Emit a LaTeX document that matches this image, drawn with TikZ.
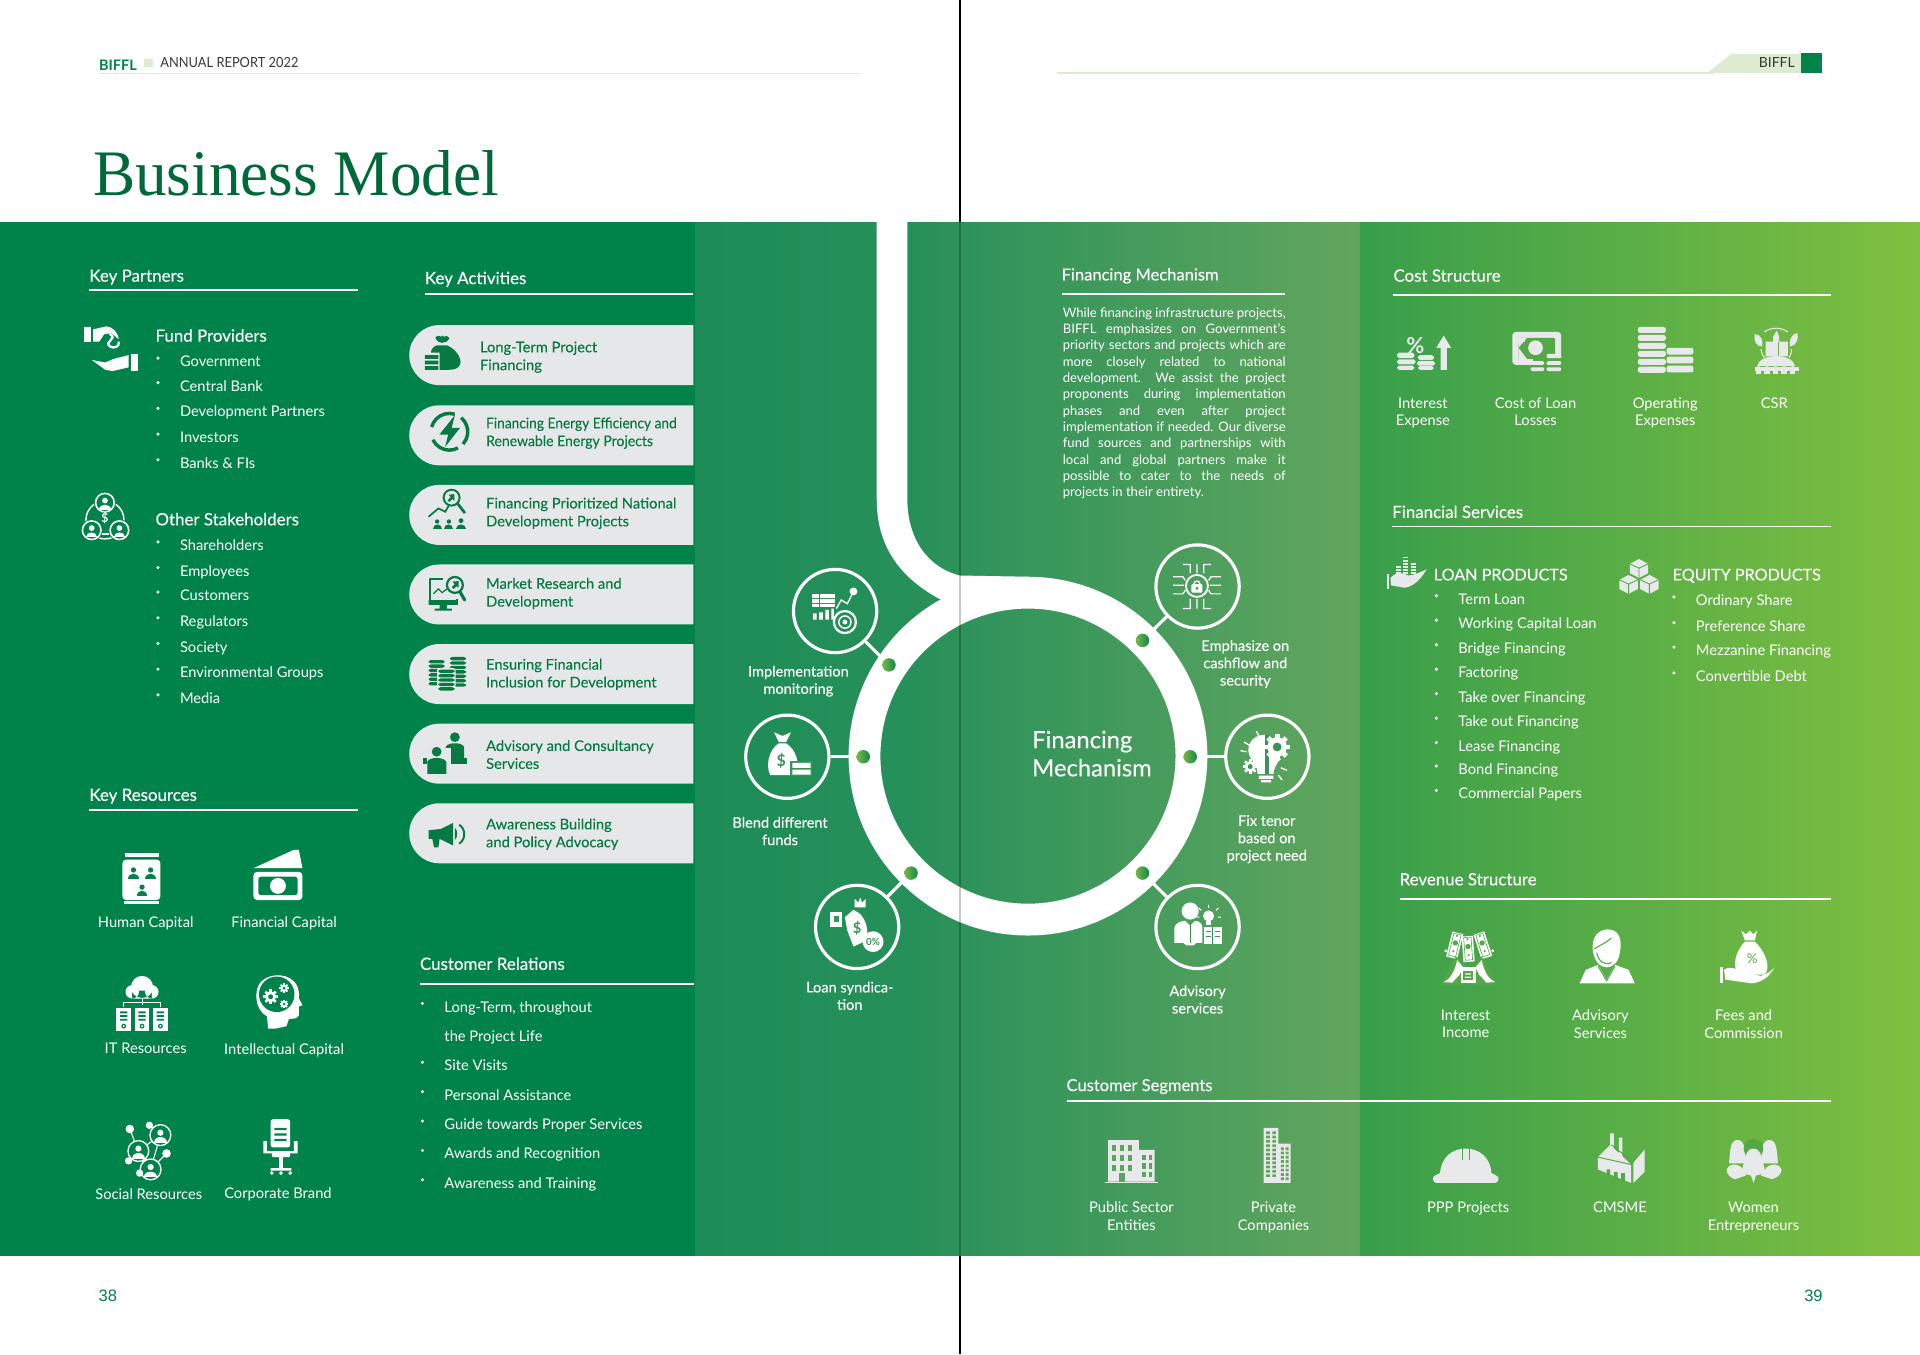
\documentclass[tikz,border=0pt]{standalone}
\usepackage{fontspec}
\usepackage{graphicx}
\setmainfont{Lato}
\newfontfamily\titlefont{Liberation Serif}
\newfontfamily\numfont{Liberation Sans}
\usetikzlibrary{shapes.misc}
\definecolor{gA}{HTML}{00834A}
\definecolor{gT}{HTML}{067A42}
\definecolor{gTitle}{HTML}{00693A}
\definecolor{pill}{HTML}{E6E7E8}
\definecolor{lg}{HTML}{E8E9EA}
\definecolor{midA}{HTML}{1D8C57}
\definecolor{midC}{HTML}{26905A}
\definecolor{midB}{HTML}{62A65E}
\definecolor{rgtA}{HTML}{389E4B}
\definecolor{rgtB}{HTML}{80C040}
\definecolor{pale}{HTML}{DDEBD0}
\definecolor{bgM}{HTML}{3A9459}
\definecolor{bgR}{HTML}{55A848}
\definecolor{bgS}{HTML}{5BA55C}
\definecolor{dotL}{HTML}{7AB648}
\definecolor{dotR}{HTML}{0E8A4A}
\newcommand\fb{\addfontfeatures{FakeBold=0.18}}
\tikzset{
 base/.style={inner sep=0pt,outer sep=0pt,text=white},
 head/.style={base,anchor=base west,yshift=-5pt,font=\fontsize{13.8}{17}\selectfont\fb},
 item/.style={base,anchor=base west,yshift=-4.5pt,font=\fontsize{12}{15}\selectfont,color=white},
 blt/.style={circle,fill=white,inner sep=0pt,minimum size=2.8pt},
 lab/.style={base,anchor=north,align=center,yshift=4.3pt,font=\fontsize{12}{14.2}\selectfont},
 clab/.style={lab,font=\fontsize{11.9}{14.2}\selectfont\fb},
 rule/.style={white,line width=1.3pt},
 ccl/.style={circle,draw=white,line width=2.6pt,minimum size=68pt,inner sep=0pt},
 dot/.style={circle,inner sep=0pt,minimum size=11pt,left color=dotL,right color=dotR,draw=none},
 cnn/.style={white,line width=2.5pt},
 pillbox/.style={rounded rectangle,rounded rectangle right arc=none,fill=pill,minimum width=232pt,minimum height=49pt,inner sep=0pt,anchor=west},
 ptxt/.style={base,anchor=west,align=left,yshift=-.7pt,text=gT,font=\fontsize{12}{14.6}\selectfont\fb},
}
\newcommand\icBust[4][white]{%
 \fill[#1] (#2,{#3-#4*.42}) circle ({#4*.36});
 \fill[#1] ({#2-#4*.72},{#3+#4*.75}) .. controls ({#2-#4*.72},{#3-#4*.1}) and ({#2+#4*.72},{#3-#4*.1}) .. ({#2+#4*.72},{#3+#4*.75}) -- cycle;}
\newcommand\icGear[5][white]{%
 \fill[#1] (#2,#3) circle (#4);
 \foreach \a in {0,45,...,315}{\fill[#1,shift={(#2,#3)},rotate=\a] ({-.24*#4},{-1.32*#4}) rectangle ({.24*#4},0);}
 \fill[#5] (#2,#3) circle ({#4*.45});}
\newcommand\icStack[6][white]{% x ytop n halfw h
 \foreach \k in {1,...,#4}{\fill[#1,rounded corners=2pt] ({#2-#5},{#3+(\k-1)*#6}) rectangle ({#2+#5},{#3+(\k-1)*#6+#6*.76});}}
\begin{document}
\begin{tikzpicture}[x=1pt,y=-1pt]
\useasboundingbox (0,0) rectangle (1568,1105.8);
% background band
\fill[gA] (0,170) rectangle (568,1040);
\shade[left color=midA,right color=midC] (568,170) rectangle (741,1040);
\shade[left color=midC,right color=midB] (741,170) rectangle (1110.5,1040);
\shade[left color=rgtA,right color=rgtB] (1110.5,170) rectangle (1568,1040);
\fill[white] (0,0) rectangle (1568,181);
\fill[white] (0,1026) rectangle (1568,1105.8);
% header left
\node[base,anchor=base west,text=gA,font=\fontsize{11.8}{14}\selectfont\bfseries] (hbl) at (81,57.5) {BIFFL};
\fill[pale] (118,48) rectangle (125,55);
\node[base,anchor=base west,text=black!78,font=\fontsize{11.4}{14}\selectfont] (har) at (131,55.5) {\scalebox{.92}[1]{ANNUAL REPORT 2022}};
\draw[pale,line width=1.2pt] (81,60) -- (703,60);
% header right
\draw[pale,line width=1.2pt] (863,59.5) -- (1400,59.5);
\fill[pale] (1394,59.5) -- (1414,44) -- (1471,44) -- (1471,59.5) -- cycle;
\node[base,anchor=base,text=black!78,font=\fontsize{11.4}{14}\selectfont] (hbr) at (1451,55.5) {BIFFL};
\fill[gA] (1471,43) rectangle (1488,60);
% title
\node[base,anchor=base west,text=gTitle,font=\fontsize{53}{60}\selectfont\titlefont] (title) at (76,159.5) {\scalebox{.975}[1]{Business Model}};
% page numbers
\node[base,text=gA,font=\fontsize{13.5}{16}\selectfont\numfont] (p38) at (88,1058) {38};
\node[base,text=gA,font=\fontsize{13.5}{16}\selectfont\numfont] (p39) at (1481,1058) {39};
% section heads
\node[head] (hKP) at (73,225) {Key Partners};
\draw[rule] (73,237) -- (292,237);
\node[head] (hKR) at (73,649) {Key Resources};
\draw[rule] (73,661.5) -- (292,661.5);
\node[head] (hKA) at (347,227) {Key Activities};
\draw[rule] (347,240) -- (566,240);
\node[head] (hCR) at (343,787) {Customer Relations};
\draw[rule] (343,803.5) -- (567,803.5);
\node[head,font=\fontsize{13.5}{17}\selectfont\fb] (hFM) at (867,224) {Financing Mechanism};
\draw[rule] (867,240) -- (1049,240);
\node[head] (hCS) at (1138,225) {Cost Structure};
\draw[rule] (1138,241) -- (1495,241);
\node[head] (hFS) at (1137,418) {Financial Services};
\draw[rule] (1137,430) -- (1495,430);
\node[head] (hRS) at (1143,718) {Revenue Structure};
\draw[rule] (1143,734) -- (1495,734);
\node[head,font=\fontsize{13.5}{17}\selectfont\fb] (hCG) at (871,886) {Customer Segments};
\draw[rule] (871,899) -- (1495,899);
% lists
\node[head] (fp) at (127,274) {Fund Providers};
\foreach \y/\t [count=\i] in {295/Government,315/Central Bank,336/Development Partners,357/Investors,378/Banks \& FIs}{
 \node[blt] (fb\i) at (129,\y-2.5) {};
 \node[item] (fi\i) at (147,\y) {\t};}
\node[head] (os) at (127,424) {Other Stakeholders};
\foreach \y/\t [count=\i] in {445/Shareholders,466/Employees,486/Customers,507/Regulators,528/Society,549/Environmental Groups,570/Media}{
 \node[blt] (ob\i) at (129,\y-2.5) {};
 \node[item] (oi\i) at (147,\y) {\t};}
\foreach \y/\t [count=\i] in {822/{Long-Term, throughout},870/Site Visits,894/Personal Assistance,918/Guide towards Proper Services,942/Awards and Recognition,966/Awareness and Training}{
 \node[blt] (cb\i) at (345,\y-2.5) {};
 \node[item] (ci\i) at (363,\y) {\t};}
\node[item] (ci0) at (363,846) {the Project Life};
\node[head,font=\fontsize{13.2}{17}\selectfont\fb] (lp) at (1171,469) {LOAN PRODUCTS};
\node[head,font=\fontsize{13.2}{17}\selectfont\fb] (ep) at (1366,469) {EQUITY PRODUCTS};
\foreach \y/\t [count=\i] in {489/Term Loan,509/Working Capital Loan,529/Bridge Financing,549/Factoring,569/Take over Financing,589/Take out Financing,609/Lease Financing,628/Bond Financing,648/Commercial Papers}{
 \node[blt] (lb\i) at (1173,\y-2.5) {};
 \node[item] (li\i) at (1191,\y) {\t};}
\foreach \y/\t [count=\i] in {490/Ordinary Share,511/Preference Share,531/Mezzanine Financing,552/Convertible Debt}{
 \node[blt] (eb\i) at (1367,\y-2.5) {};
 \node[item] (ei\i) at (1385,\y) {\t};}
% paragraph
\node[base,anchor=north west,align=left,font=\fontsize{10.7}{13.36}\selectfont] (para) at (868,251) {%
\makebox[182pt][s]{While financing infrastructure projects,}\\
\makebox[182pt][s]{BIFFL emphasizes on Government's}\\
\makebox[182pt][s]{priority sectors and projects which are}\\
\makebox[182pt][s]{more closely related to national}\\
\makebox[182pt][s]{development. We assist the project}\\
\makebox[182pt][s]{proponents during implementation}\\
\makebox[182pt][s]{phases and even after project}\\
\makebox[182pt][s]{implementation if needed. Our diverse}\\
\makebox[182pt][s]{fund sources and partnerships with}\\
\makebox[182pt][s]{local and global partners make it}\\
\makebox[182pt][s]{possible to cater to the needs of}\\
projects in their entirety.};
% pills
\foreach \i/\yc/\tx/\ty/\t in {1/290/392/291/{Long-Term Project\\Financing},2/355.5/397/353/{\scalebox{.935}[1]{Financing Energy Efficiency and}\\\scalebox{.955}[1]{Renewable Energy Projects}},3/420.5/397/418.5/{Financing Prioritized National\\Development Projects},4/485.5/397/484/{Market Research and\\Development},5/550.5/397/550/{Ensuring Financial\\Inclusion for Development},6/615.5/397/615.5/{Advisory and Consultancy\\Services},7/680.5/397/680.5/{Awareness Building\\and Policy Advocacy}}{
 \node[pillbox] (pill\i) at (334,\yc) {};
 \node[ptxt] (ptx\i) at (\tx,\ty) {\t};}
% resource labels
\node[lab] (lHC) at (119,753) {Human Capital};
\node[lab] (lFC) at (232,753) {Financial Capital};
\node[lab] (lIT) at (119,856) {IT Resources};
\node[lab] (lIC) at (232,857) {Intellectual Capital};
\node[lab] (lSR) at (121.5,975) {Social Resources};
\node[lab] (lCB) at (227,974) {Corporate Brand};
% right labels
\node[lab] (l1) at (1162,329) {Interest\\Expense};
\node[lab] (l2) at (1254,329) {Cost of Loan\\Losses};
\node[lab] (l3) at (1360,329) {Operating\\Expenses};
\node[lab] (l4) at (1449,329) {CSR};
\node[lab] (l5) at (1197,829) {Interest\\Income};
\node[lab] (l6) at (1307,829) {Advisory\\Services};
\node[lab] (l7) at (1424,829) {Fees and\\Commission};
\node[lab] (l8) at (924,986) {Public Sector\\Entities};
\node[lab] (l9) at (1040,986) {Private\\Companies};
\node[lab] (l10) at (1199,986) {PPP Projects};
\node[lab] (l11) at (1323,986) {CMSME};
\node[lab] (l12) at (1432,986) {Women\\Entrepreneurs};
% hook and ring
\fill[white] (716,181) -- (741,181) -- (741,408) .. controls (741,440) and (758,464) .. (784,470) -- (840,471) -- (800,492) -- (768,489.5) .. controls (735,472) and (716,446) .. (716,408) -- cycle;
\node[circle,draw=white,line width=26pt,minimum size=267pt,inner sep=0pt] (ring) at (839.5,617.5) {};
\node[base,anchor=west,align=left,font=\fontsize{19.4}{23}\selectfont\fb] (cen) at (843,615.5) {Financing\\Mechanism};
% satellites
\node[ccl] (cI) at (682,499) {};
\node[ccl] (cB) at (643,618) {};
\node[ccl] (cL) at (700,757) {};
\node[ccl] (cE) at (978,479) {};
\node[ccl] (cF) at (1035,618) {};
\node[ccl] (cA) at (978,757) {};
\node[dot] (dI) at (726,543) {};
\node[dot] (dB) at (705,618) {};
\node[dot] (dL) at (744,713) {};
\node[dot] (dE) at (933,523) {};
\node[dot] (dF) at (972,618) {};
\node[dot] (dA) at (933,713) {};
\draw[cnn] (cI) -- (dI);
\draw[cnn] (cB) -- (dB);
\draw[cnn] (cL) -- (dL);
\draw[cnn] (cE) -- (dE);
\draw[cnn] (cF) -- (dF);
\draw[cnn] (cA) -- (dA);
\node[clab] (tI) at (652,548) {Implementation\\monitoring};
\node[clab] (tB) at (637,671.5) {Blend different\\funds};
\node[clab] (tL) at (694,806) {Loan syndica-\\tion};
\node[clab] (tE) at (1017,527) {Emphasize on\\cashflow and\\security};
\node[clab] (tF) at (1034.5,670) {Fix tenor\\based on\\project need};
\node[clab] (tA) at (978,809) {Advisory\\services};
% ICONS ---------------------------------------------------
% fund providers
\fill[white] (68.6,267) rectangle (74.4,279);
\fill[white] (76,269) -- (87,266.5) .. controls (92,267) and (96,271) .. (97,277) -- (91,272) -- (85,273) -- (81,279) -- (76,279) -- cycle;
\draw[white,line width=1.9pt] (89.5,272.5) .. controls (97,277) and (84,279) .. (90,283) .. controls (93,285) and (98,283) .. (97,279);
\fill[white] (107,289) rectangle (112.3,302.6);
\fill[white] (75,294) -- (86,296) -- (93,293) -- (105,290) -- (105,300) -- (92,303) -- (86,302) -- cycle;
% stakeholders
\draw[white,line width=1.2pt] (85.7,424.6) circle (15.5);
\draw[gA,line width=3pt] (80,437) -- (92,437);
\fill[white] (82,435.4) rectangle (89.5,436.6);
\fill[gA] (85.7,410.5) circle (9) (74.9,433) circle (9) (97.5,433) circle (9);
\draw[white,line width=1.3pt] (85.7,410.5) circle (7.6) (74.9,433) circle (7.6) (97.5,433) circle (7.6);
\icBust{85.7}{411.5}{6.5}\icBust{74.9}{434}{6.5}\icBust{97.5}{434}{6.5}
\node[base,text=white,font=\fontsize{10}{10}\selectfont\bfseries] (ic1) at (85.7,423.5) {\$};
% human capital
\fill[white] (102,697) rectangle (130,700);
\fill[white,rounded corners=3pt] (100,702) rectangle (131,735);
\fill[white] (101,736) rectangle (130,738);
\icBust[gA]{109}{713}{6}\icBust[gA]{123}{713}{6}\icBust[gA]{116}{727}{6}
% financial capital
\fill[white] (207,709) -- (240,694) -- (244,694) -- (247,709) -- cycle;
\fill[white,rounded corners=3pt] (207,712) rectangle (247,735);
\fill[gA,rounded corners=2pt] (211,716) rectangle (243,731);
\fill[white] (227,723.5) circle (6.5);
% IT
\fill[white] (108,810) circle (5.5) (124,810) circle (5.5) (116,806) circle (9) (108,809) rectangle (124,815.5);
\draw[white,line width=.8pt] (116,815) -- (116,821) (101,822) -- (101,819) -- (131,819) -- (131,822);
\foreach \xx in {95,110,125}{
 \fill[white] (\xx,823) rectangle (\xx+12,842);
 \fill[gA] (\xx+3,826) rectangle (\xx+9,827.5) (\xx+3,829) rectangle (\xx+9,830.5) (\xx+3,832) rectangle (\xx+9,833.5) (\xx+6,838) circle (2);
 \fill[white] (\xx+6,838) circle (.9);}
% head
\fill[white] (219,840) -- (218,830) .. controls (208,825) and (207,808) .. (213,802) .. controls (220,794) and (238,794) .. (243,806) .. controls (245,812) and (244,814) .. (244,815) -- (247,821) -- (244,822) -- (244,829) .. controls (243,832) and (240,832) .. (236,832) -- (234,838) -- (225,840) -- cycle;
\fill[gA] (226,812) circle (14.5);
\icGear{221}{814}{4.5}{gA}
\icGear{232}{807}{3}{gA}
\icGear{232}{820}{2.6}{gA}
% social
\draw[white,line width=.9pt] (106,922) -- (113,940) (122,919) -- (131,927) (113,940) -- (131,927) (131,927) -- (123,955) (113,940) -- (123,955) (136,942) -- (123,955) (105,948) -- (113,940) (114,958) -- (123,955);
\fill[gA] (113,940) circle (8.5) (131,927) circle (8.5) (123,955) circle (8.5);
\draw[white,line width=1.1pt] (113,940) circle (8.5) (131,927) circle (8.5) (123,955) circle (8.5);
\icBust{113}{941}{7}\icBust{131}{928}{7}\icBust{123}{956}{7}
\fill[white] (106,922) circle (3.5) (122,919) circle (3) (136,942) circle (3.5) (105,948) circle (3) (114,958) circle (3);
% chair
\fill[white,rounded corners=2pt] (221,914) rectangle (237,937);
\fill[gA] (224,921) rectangle (234,923) (224,925.5) rectangle (234,927.5) (224,930) rectangle (234,932);
\fill[white,rounded corners=1pt] (222,940) rectangle (237,945);
\fill[white] (215,932) rectangle (218,941) (240,932) rectangle (243,941) (215,940) rectangle (243,942) (228,945) rectangle (231,954) (221,954) rectangle (238,956);
\fill[white] (222,958) circle (1.6) (229.5,958) circle (1.6) (237,958) circle (1.6);
% pill 1 bag
\fill[gT] (355.5,276) .. controls (357,273.5) and (359,274) .. (360.5,275) .. controls (361,273.5) and (362,273.5) .. (362.5,275) .. controls (364,274) and (366,274) .. (367,276) .. controls (366,279) and (363,280) .. (361,280) .. controls (359,280) and (357,279) .. (355.5,276) -- cycle;
\fill[gT] (357,282) -- (365,282) .. controls (372,285) and (377,292) .. (376,297) .. controls (375,301) and (371,302) .. (366,302) -- (359,302) -- (359,288) -- (352,288) .. controls (352,285) and (354,283) .. (357,282) -- cycle;
\fill[gT] (347,290) rectangle (358,293) (347,294.5) rectangle (358,297.5) (347,299) rectangle (358,302);
% pill 2
\foreach \a in {-165,-50,62}{\draw[gT,line width=2.8pt] (367,352.6) ++(\a:15) arc[start angle=\a,end angle=\a+92,radius=15];}
\fill[gT] (371.5,339) -- (358.8,355) -- (366,355) -- (363.5,365) -- (375.7,349.4) -- (368.9,349.4) -- cycle;
% pill 3
\draw[gT,line width=1.6pt] (368.8,406.4) circle (6.5);
\draw[gT,line width=2.2pt] (373.5,411) -- (379.7,419);
\fill[gT] (371,403.5) -- (371,409) -- (369.5,407.5) -- (367,410) -- (365.5,408.5) -- (368,406) -- (366.5,404) -- cycle;
\draw[gT,line width=1.4pt] (350,422) -- (358,415.2) -- (363.6,417.9) -- (366.5,413);
\icBust[gT]{357}{428}{5}\icBust[gT]{366.6}{428}{5}\icBust[gT]{376.5}{427.5}{5.5}
% pill 4
\draw[gT,line width=2pt,line join=round] (362,473) -- (351,473) -- (351,493) -- (373,493) -- (373,489);
\fill[gT] (350,490) rectangle (374,494) (359,494) rectangle (365,497) (355,497) rectangle (369,498.7);
\draw[gT,line width=1.8pt] (371.5,477.7) circle (6.5);
\draw[gT,line width=2.6pt,line cap=round] (375.5,483) -- (379.5,490);
\draw[gT,line width=1pt] (354,485) -- (358,481) -- (361,484) -- (365,481);
\fill[gT] (374.5,474.5) -- (374.5,480) -- (373,478.6) -- (370.5,481) -- (369,479.5) -- (371.3,477) -- (369.5,475) -- cycle;
% pill 5
\icStack[gT]{356.6}{539}{6}{6.6}{3.6}
\icStack[gT]{374}{536.5}{7}{6.6}{3.6}
\fill[pill,rounded corners=2pt] (357,545.5) rectangle (372,564.5);
\icStack[gT]{364.6}{546.8}{5}{6.6}{3.6}
% pill 6
\fill[gT] (371.5,602) circle (4);
\fill[gT] (364,620) -- (364,610) .. controls (365,607.5) and (369,607) .. (371.5,607) .. controls (374,607) and (378,607.5) .. (379,610) -- (379,620) -- cycle;
\fill[gT] (362,619) rectangle (381,624);
\fill[pill] (344,611) rectangle (368,632);
\fill[gT] (356.6,613.9) circle (4);
\fill[gT] (349,632) -- (349,622) .. controls (350,619.5) and (354,619) .. (356.6,619) .. controls (359,619) and (363,619.5) .. (364.5,622) -- (364.5,632) -- cycle;
\fill[gT] (345.7,619) rectangle (348.5,624);
% pill 7
\fill[gT] (350,678) -- (360,677) -- (370,672) -- (370,690.5) -- (360,685.5) -- (350,685) -- cycle;
\fill[gT] (353,685) -- (359,685.5) -- (358,692) -- (354.5,692) -- cycle;
\fill[gT] (371.5,676) .. controls (374,678) and (374,684) .. (371.5,686) -- cycle;
\draw[gT,line width=1.6pt] (375,673.5) .. controls (380.5,677) and (380.5,685.5) .. (375,689);
% implementation
\fill[white] (663,485) rectangle (682,496);
\draw[bgM,line width=.8pt] (663,489) -- (682,489) (663,492.5) -- (682,492.5) (669,485) -- (669,496);
\draw[white,line width=1.1pt] (683,497) -- (687,490) -- (692,493) -- (697,483);
\fill[white] (697,483) circle (3.2);
\fill[white] (664,501) rectangle (667,506) (669,500) rectangle (672,506) (674,498) rectangle (677,506) (679,497) rectangle (681,506);
\draw[white,line width=1.8pt] (690,508) circle (9);
\draw[white,line width=1.2pt] (690,508) circle (5);
\fill[white] (690,508) circle (2);
% blend
\fill[white] (632,598) -- (639,601) -- (646,598) -- (642,606) -- (636,606) -- cycle;
\fill[white] (636,607) -- (642,607) .. controls (650,612) and (654,624) .. (650,633) -- (629,633) .. controls (625,625) and (628,612) .. (636,607) -- cycle;
\node[base,text=bgM,font=\fontsize{13}{13}\selectfont\bfseries] (ic2) at (638,621) {\$};
\fill[bgM] (645,621.5) rectangle (663,634);
\fill[white] (647,623) rectangle (662,627) (647,628.5) rectangle (662,632.5);
% loan
\fill[white] (678,745) rectangle (688,757);
\fill[bgM] (681,748) rectangle (685,753);
\fill[white] (690,749) -- (697,743) -- (702,746) .. controls (708,752) and (709,760) .. (708,768) -- (697,773) -- (692,760) -- cycle;
\node[base,text=bgM,font=\fontsize{12}{12}\selectfont\bfseries] (ic3) at (700,758) {\$};
\fill[white] (698,741) -- (698,734) -- (701,737) -- (702.5,733) -- (704,737) -- (707,734) -- (707,741) -- cycle;
\fill[white] (713,769) circle (8.5);
\node[base,text=bgM,font=\fontsize{8}{8}\selectfont\bfseries] (ic4) at (713,769) {0\%};
% emphasize
\draw[white,line width=1.5pt] (977.5,478.5) circle (9);
\fill[white,rounded corners=.8pt] (973,477) rectangle (982,484);
\draw[white,line width=1.1pt] (975,477) arc[start angle=180,end angle=360,radius=2.5];
\fill[bgM] (977.5,480.5) circle (1.2);
\draw[white,line width=1pt] (958,471) -- (966,471) -- (968,474) (958,478) -- (967,478) (958,485) -- (966,485) -- (968,482)
 (997,471) -- (989,471) -- (987,474) (997,478) -- (988,478) (997,485) -- (989,485) -- (987,482)
 (966,461) -- (972,461) -- (972,468) (989,461) -- (983,461) -- (983,468) (977.5,461) -- (977.5,468)
 (966,497) -- (972,497) -- (972,489) (989,497) -- (983,497) -- (983,489) (977.5,497) -- (977.5,489);
% fix tenor
\fill[white] (1033,600) .. controls (1021,600) and (1016,612) .. (1022,620) .. controls (1026,625) and (1027,628) .. (1027,632) -- (1040,632) .. controls (1040,628) and (1043,622) .. (1046,620) -- (1036,610) -- cycle;
\fill[white] (1028,633.5) rectangle (1040,636) (1030,637) rectangle (1038,639);
\fill[bgM] (1033,600) -- (1036,600) -- (1036,632) -- (1033,632) -- cycle;
\icGear{1043}{610}{8}{bgM}
\icGear{1021}{626}{4.5}{bgM}
\draw[white,line width=1.1pt] (1016,606) -- (1021,609) (1013,613) -- (1018,614) (1026,597) -- (1028,601) (1046,627) -- (1051,629) (1044,633) -- (1047,637);
% advisory
\fill[white] (972,744) circle (7);
\fill[white] (959,770) -- (959,758) .. controls (959,754) and (965,752) .. (968,752) -- (972,756) -- (976,752) .. controls (979,752) and (982,754) .. (982,758) -- (982,770) -- (977,770) -- (975,772) -- (969,772) -- (966,770) -- cycle;
\fill[white] (983,757) rectangle (998,771);
\draw[bgM,line width=.9pt] (990.5,757) -- (990.5,771) (985,761) -- (989,761) (985,765) -- (989,765) (992,761) -- (996,761) (992,765) -- (996,765) (972,755) -- (972,770);
\fill[white] (987,748) circle (4.5);
\fill[white] (985,752) rectangle (989,755);
\draw[white,line width=.8pt] (987,739) -- (987,741.5) (979,741.5) -- (981,743.5) (995,741.5) -- (993,743.5) (977,749) -- (979.5,749) (997,749) -- (994.5,749);
% interest expense
\node[base,text=lg,font=\fontsize{18}{18}\selectfont\bfseries] (ic5) at (1156,282) {\%};
\fill[lg,rounded corners=1.5pt] (1141,288) rectangle (1155,292.5) (1141,293.5) rectangle (1156,297.5) (1141,298.5) rectangle (1155,302);
\fill[lg,rounded corners=1.5pt] (1158,290) rectangle (1171,294) (1157,295) rectangle (1172,298.5) (1158,299) rectangle (1171,302);
\fill[lg] (1179,274) -- (1185,284) -- (1181.5,284) -- (1181.5,302) -- (1176.5,302) -- (1176.5,284) -- (1173,284) -- cycle;
% cost of loan
\fill[lg,rounded corners=3pt] (1235,271) rectangle (1275,298);
\fill[bgR,rounded corners=1pt] (1240,276) rectangle (1270,293);
\fill[lg] (1240,276) -- (1247,276) -- (1240,284) -- (1247,293) -- (1240,293) -- cycle;
\fill[lg] (1254,284) circle (6);
\fill[bgR] (1252,292) rectangle (1276,304);
\fill[lg,rounded corners=1pt] (1263,289) rectangle (1275,292.5) (1250,295) rectangle (1261,298) (1263,295) rectangle (1275,298) (1250,300) rectangle (1261,303) (1263,300) rectangle (1275,303);
\fill[lg] (1240,276) rectangle (1245,279);
% operating
\icStack[lg]{1349}{267}{6}{11.5}{6.5}
\icStack[lg]{1372}{284}{3}{11}{7.3}
% CSR
\fill[lg] (1435,299) .. controls (1437,288) and (1464,288) .. (1466,299) -- cycle;
\fill[lg] (1433,300) rectangle (1469,303);
\foreach \xx in {1436,1443,1450,1457,1464}{\fill[lg] (\xx,301) circle (2);\fill[lg] (\xx-2.3,303) rectangle (\xx+2.3,305.5);}
\fill[lg] (1442,279) rectangle (1448,291) (1452,279) rectangle (1460,291) (1448,275) -- (1451,270) -- (1453,275) -- (1453,291) -- (1448,291) -- cycle;
\fill[lg] (1433,273) .. controls (1439,273) and (1440,279) .. (1439,283) .. controls (1434,283) and (1432,278) .. (1433,273) -- cycle;
\fill[lg] (1468,272) .. controls (1462,273) and (1461,279) .. (1462,283) .. controls (1467,282) and (1469,277) .. (1468,272) -- cycle;
\draw[lg,line width=.9pt] (1441,271) .. controls (1447,267) and (1454,267) .. (1460,271) (1438,285) .. controls (1439,290) and (1440,291) .. (1441,292) (1463,285) .. controls (1463,289) and (1462,291) .. (1461,292);
% loan products
\fill[lg] (1133,469) rectangle (1134.5,481);
\fill[lg] (1135.5,472) .. controls (1141,466) and (1146,468) .. (1150,470) .. controls (1155,470) and (1160,467) .. (1165,465) .. controls (1161,472) and (1155,479) .. (1147,480) -- (1136,478) -- cycle;
\foreach \xx/\n in {1142/3,1148/6,1154/4}{\foreach \k in {1,...,\n}{\fill[lg] (\xx-2,{469-(\k-1)*2.6}) rectangle (\xx+2,{467.5-(\k-1)*2.6});}}
% equity
\foreach \cx/\cy in {1338.5/464,1330/477,1347/477}{
 \fill[lg] (\cx,\cy-7.5) -- (\cx+7.5,\cy-3.5) -- (\cx+7.5,\cy+4) -- (\cx,\cy+8) -- (\cx-7.5,\cy+4) -- (\cx-7.5,\cy-3.5) -- cycle;
 \draw[bgR,line width=.7pt] (\cx-7.5,\cy-3.5) -- (\cx,\cy) -- (\cx+7.5,\cy-3.5) (\cx,\cy) -- (\cx,\cy+8);}
% interest income
\foreach \cx/\cyy/\rt in {1188/772/-14,1199/775/4,1211/772/18}{
 \begin{scope}[shift={(\cx,\cyy)},rotate=\rt]
 \fill[white] (-4.6,-10.5) rectangle (4.6,10.5);
 \fill[bgR] (0,-2) circle (2.2) (0,-8) circle (1) (0,5) circle (1);
 \draw[bgR,line width=.5pt] (-3,-9.5) rectangle (3,9);
 \end{scope}}
\fill[white] (1180.7,776.5) circle (1.3) (1219,776.5) circle (1.3);
\fill[bgR] (1189,781) -- (1198,790) -- (1198,804) -- (1177,804) -- cycle;
\fill[bgR] (1210,781) -- (1202,790) -- (1202,804) -- (1223,804) -- cycle;
\fill[white] (1179,802) .. controls (1184,800) and (1188,794) .. (1190,784) -- (1195,790) -- (1192,796) -- (1186,802.5) -- cycle;
\fill[white] (1221,802) .. controls (1216,800) and (1212,794) .. (1210,784) -- (1205,790) -- (1208,796) -- (1214,802.5) -- cycle;
\fill[white] (1193,789.5) rectangle (1205,802.5);
\fill[bgR] (1195,793) rectangle (1203,800.5);
\fill[white] (1196.5,795) rectangle (1201.5,796) (1196.5,797.5) rectangle (1201.5,798.5);
% advisory person
\fill[white] (1301,777) .. controls (1299,765) and (1306,759) .. (1313,759) .. controls (1322,759) and (1325,767) .. (1323,777) .. controls (1322,786) and (1317,790) .. (1312,790) .. controls (1307,790) and (1302,785) .. (1301,777) -- cycle;
\fill[white] (1290,803) -- (1295,792) -- (1305,788) -- (1312,800) -- (1319,788) -- (1330,792) -- (1335,803) -- cycle;
\draw[bgR,line width=.9pt] (1302,775) .. controls (1306,772) and (1312,770) .. (1316,766);
\draw[bgR,line width=.9pt] (1304,778) .. controls (1305,785) and (1311,789) .. (1316,786);
\draw[bgR,line width=.8pt] (1305,789) -- (1312,801) -- (1319,789);
% fees
\fill[white] (1425,768) -- (1422,760) -- (1426,763) -- (1429,760) -- (1432,763) -- (1435,760) -- (1433,768) -- cycle;
\fill[white] (1425,769) -- (1433,769) .. controls (1441,776) and (1447,790) .. (1441,796) -- (1421,796) .. controls (1413,790) and (1418,776) .. (1425,769) -- cycle;
\node[base,text=bgR,font=\fontsize{11}{11}\selectfont] (ic6) at (1431,783) {\%};
\fill[white] (1405,790) rectangle (1407,803);
\fill[white] (1408,792) .. controls (1414,788) and (1418,792) .. (1425,794) -- (1438,797) .. controls (1442,796) and (1447,793) .. (1449,790) .. controls (1446,797) and (1438,803) .. (1430,803) -- (1409,800) -- cycle;
% public
\fill[lg] (905,931) rectangle (930,965) (930,939) rectangle (943,965);
\fill[lg] (902,965) rectangle (946,966.5);
\foreach \xx in {908,914.5,921}{\foreach \yy in {935,943,951}{\fill[bgS] (\xx,\yy) rectangle (\xx+3.6,\yy+5);}}
\foreach \xx in {933,938}{\foreach \yy in {943,950,957}{\fill[bgS] (\xx,\yy) rectangle (\xx+3,\yy+4.5);}}
\fill[bgS] (914,958) rectangle (918.5,965);
% private
\fill[lg] (1032,921) rectangle (1044,966) (1044,934) rectangle (1054,966);
\foreach \yy in {924,927.5,...,962}{\fill[midB] (1034,\yy) rectangle (1037,\yy+2.2) (1039,\yy) rectangle (1042,\yy+2.2);}
\foreach \yy in {937,940.5,...,962}{\fill[midB] (1046,\yy) rectangle (1048.4,\yy+2.2) (1050,\yy) rectangle (1052.4,\yy+2.2);}
% helmet
\fill[lg] (1176,958) .. controls (1177,945) and (1186,938) .. (1197,938) .. controls (1208,938) and (1217,945) .. (1218,958) -- (1222,960) .. controls (1225,961) and (1224,966) .. (1221,966) -- (1173,966) .. controls (1170,966) and (1169,961) .. (1172,960) -- cycle;
\draw[bgR,line width=.9pt] (1194,937) -- (1194,947) (1200,937) -- (1200,947);
% cmsme
\fill[lg] (1315,935) -- (1332,951) -- (1332,966) -- (1305,955) -- (1305,945) -- cycle;
\fill[lg] (1315,925.5) rectangle (1318,941) (1322,929) rectangle (1325,945);
\fill[lg] (1334,949) -- (1343,938) -- (1343,957) -- (1334,966) -- cycle;
\draw[bgR,line width=.8pt] (1305,945) -- (1332,951) -- (1343,938) (1316,935) -- (1334,949);
\fill[bgR] (1312,955) rectangle (1315,962) (1318,957) rectangle (1321,964) (1324,958) rectangle (1327,965);
% women
\foreach \cx/\cy in {1419/937,1445/937}{
 \fill[lg] (\cx,\cy-6) .. controls (\cx+6,\cy-6) and (\cx+6,\cy+2) .. (\cx+7,\cy+13) -- (\cx-7,\cy+13) .. controls (\cx-6,\cy+2) and (\cx-6,\cy-6) .. (\cx,\cy-6) -- cycle;}
\fill[lg] (1410,955) .. controls (1412,950) and (1418,950) .. (1422,953) -- (1426,960) -- (1417,963) .. controls (1413,962) and (1410,959) .. (1410,955) -- cycle;
\fill[lg] (1455,955) .. controls (1453,950) and (1447,950) .. (1443,953) -- (1438,960) -- (1447,963) .. controls (1451,962) and (1455,959) .. (1455,955) -- cycle;
\fill[bgR] (1432,938) circle (8);
\fill[lg] (1432,938) .. controls (1439,938) and (1439,948) .. (1442,958) -- (1434,960) -- (1432,966) -- (1430,960) -- (1422,958) .. controls (1425,948) and (1425,938) .. (1432,938) -- cycle;
% page fold
\draw[black,line width=1.4pt] (784,0) -- (784,181) (784,1026) -- (784,1105.8);
\draw[black,opacity=.22,line width=1pt] (784,181) -- (784,1026);
\end{tikzpicture}
\end{document}
